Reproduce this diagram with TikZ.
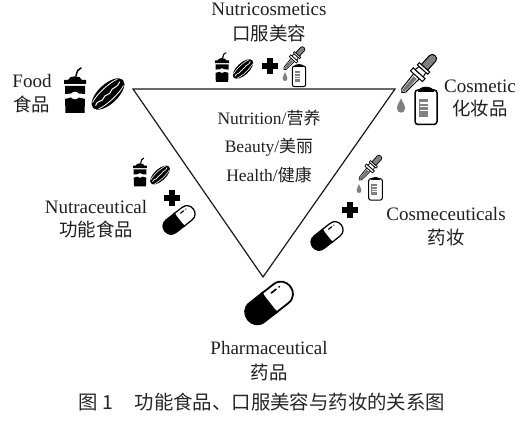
\documentclass[tikz,border=0pt]{standalone}
\usepackage{fontspec}
\setmainfont{Liberation Serif}
\newfontfamily\cjk{Noto Sans CJK SC}[Scale=0.97]
\newcommand{\zh}[1]{{\cjk #1}}
\tikzset{
  x=1pt,y=-1pt,
  lab/.style={font=\fontsize{19}{21}\selectfont,text=black!88,inner sep=0pt},
  labm/.style={font=\fontsize{17.5}{19}\selectfont,text=black!88,inner sep=0pt},
  tri/.style={draw=black!90,line width=1.2pt,line join=miter},
  cup/.pic={
    \draw[black,line width=#1 pt,line cap=round] (1,-14) .. controls (2,-19) and (3,-21) .. (6,-22);
    \fill[black] (-7,-10) .. controls (-6,-15) and (6,-15) .. (7,-10) -- (11,-10) -- (11,-6) -- (-11,-6) -- (-11,-10) -- cycle;
    \fill[black] (-10,-4) -- (10,-4) -- (10,4) -- (4,3.5) .. controls (2,1) and (-2,1) .. (-4,3.5) -- (-10,4) -- cycle;
    \fill[black] (-10,9) -- (-4,7.5) .. controls (-2,10) and (2,10) .. (4,7.5) -- (10,9) -- (9.5,23) -- (-9.5,23) -- cycle;
  },
  hotdog/.pic={
    \begin{scope}[rotate=43]
      \fill[black] (0,0) ellipse [x radius=20.5,y radius=9.8];
      \draw[white,line width=#1*0.8pt] (-17,-4.5) .. controls (-8,-7.5) and (8,-7.5) .. (17,-4.5);
      \draw[white,line width=#1*0.8pt] (-17,4.5) .. controls (-8,7.5) and (8,7.5) .. (17,4.5);
      \draw[white,line width=#1*1pt] (-17,0) .. controls (-13,-3.5) and (-9,2.5) .. (-6,0) .. controls (-3,-2.5) and (1,2.5) .. (4,0) .. controls (7,-2.5) and (11,2.5) .. (17,-1);
    \end{scope}
  },
  dropper/.pic={
    \begin{scope}[rotate=48,line width=#1*1pt]
      \draw[black,fill=white,line join=round] (-25,0) -- (-22,-2.6) -- (-3,-3.8) -- (-3,3.8) -- (-22,2.6) -- cycle;
      \fill[black!55] (-24,0) -- (-21,-1.4) -- (-5,-2.2) -- (-5,2.2) -- (-21,1.4) -- cycle;
      \draw[black,fill=white] (-3,-8) rectangle (1,8);
      \draw[black,fill=white] (1,-5.5) -- (6,-4.5) -- (6,4.5) -- (1,5.5) -- cycle;
      \draw[black,fill=white] (6,-7) rectangle (9,7);
      \draw[black,fill=black!50] (9,-4.2) -- (21,-4.2) .. controls (26,-4.2) and (26,4.2) .. (21,4.2) -- (9,4.2) -- cycle;
    \end{scope}
  },
  bottle/.pic={
    \draw[black,fill=white,line width=#1*1.5pt,rounded corners=#1*3pt] (-11,-15) rectangle (11,19.5);
    \fill[black] (-8,-13) .. controls (-8,-20) and (8,-20) .. (8,-13) -- cycle;
    \fill[black!50] (-7,-6) rectangle (2,12);
    \fill[white] (-6,-3) rectangle (2,-1);
    \fill[white] (-6,1) rectangle (2,2.2);
    \fill[white] (-6,5) rectangle (2,6);
  },
  drop/.pic={
    \fill[black!50] (0,-8) .. controls (1,-4) and (4,-2) .. (4,2.5) .. controls (4,8) and (-4,8) .. (-4,2.5) .. controls (-4,-2) and (-1,-4) .. (0,-8) -- cycle;
  },
  capsule/.pic={
    \begin{scope}[rotate=38]
      \draw[black,fill=white,line width=#1*1.8pt] (0,-12) -- (15,-12) .. controls (31,-12) and (31,12) .. (15,12) -- (0,12) -- cycle;
      \fill[black] (2,-12.9) -- (-15,-12.9) .. controls (-32,-12.9) and (-32,12.9) .. (-15,12.9) -- (2,12.9) .. controls (-1,5) and (-1,-5) .. (2,-12.9) -- cycle;
      \draw[black,line width=#1*1.7pt,line cap=round] (8,-6.5) -- (14,-6.5);
      \fill[black] (18,-6.5) circle (1.1);
    \end{scope}
  },
  plusmark/.pic={
    \fill[black] (-8,-3.2) rectangle (8,3.2);
    \fill[black] (-3.2,-8) rectangle (3.2,8);
  },
}
\begin{document}
\begin{tikzpicture}
\useasboundingbox (0,0) rectangle (527,430);
% triangle
\coordinate (tl) at (133,89);
\coordinate (tr) at (395,89);
\coordinate (tb) at (263,277);
\draw[tri] (tl) -- (tr) -- (tb) -- cycle;
% food
\pic at (75,90) {cup=1.5};
\pic at (108,94) {hotdog=1};
% cosmetic
\pic at (418.5,74) {dropper=1};
\pic at (401,106) {drop};
\pic at (426,105) {bottle=1};
% nutricosmetics
\pic[scale=.65] at (222,67) {cup=1.1};
\pic[scale=.62] at (243,69) {hotdog=.7};
\pic[scale=.95] at (270,66) {plusmark};
\pic[scale=.6] at (294,58.5) {dropper=.7};
\pic[scale=.6] at (285,77) {drop};
\pic[scale=.6] at (299,75) {bottle=.7};
% nutraceutical
\pic[scale=.63] at (140,172) {cup=1.1};
\pic[scale=.6] at (160,175) {hotdog=.7};
\pic[scale=.95] at (172,198) {plusmark};
\pic[scale=.67] at (179,220) {capsule=.7};
% cosmeceuticals
\pic[scale=.65] at (370,168) {dropper=.7};
\pic[scale=.6] at (359,189) {drop};
\pic[scale=.62] at (375.5,188) {bottle=.7};
\pic[scale=.95] at (350,210) {plusmark};
\pic[scale=.67] at (327,236) {capsule=.7};
% pharmaceutical
\pic at (269,303) {capsule=1};
% labels
\node[lab] (n1) at (269,9) {Nutricosmetics};
\node[lab] (n2) at (269,33) {\zh{口服美容}};
\node[lab] (f1) at (32,81) {Food};
\node[lab] (f2) at (32,104) {\zh{食品}};
\node[lab] (c1) at (480,86) {Cosmetic};
\node[lab] (c2) at (480,109) {\zh{化妆品}};
\node[labm] (t1) at (269,118) {Nutrition/\zh{营养}};
\node[labm] (t2) at (269,147) {Beauty/\zh{美丽}};
\node[labm] (t3) at (269,175) {Health/\zh{健康}};
\node[lab] (a1) at (96,207) {Nutraceutical};
\node[lab] (a2) at (96,229) {\zh{功能食品}};
\node[lab] (m1) at (446,214) {Cosmeceuticals};
\node[lab] (m2) at (446,238) {\zh{药妆}};
\node[lab] (p1) at (269,348) {Pharmaceutical};
\node[lab] (p2) at (269,372) {\zh{药品}};
\node[inner sep=0pt,text=black!85,font=\fontsize{20}{22}\selectfont] (cap) at (262,402) {\zh{图 1\hspace{1.1em}功能食品、口服美容与药妆的关系图}};
\end{tikzpicture}
\end{document}
